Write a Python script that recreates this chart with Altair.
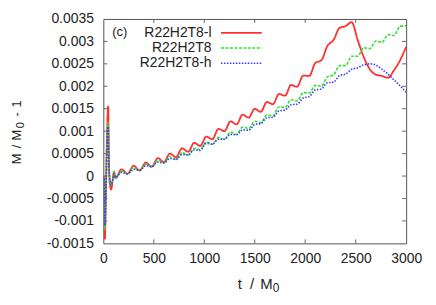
import altair as alt
import pandas as pd

# ---- data ----
t_vals = [0, 8, 16, 24, 32, 40, 48, 56, 66, 78, 92, 106,
          120, 180, 240, 300, 360, 420, 480, 540, 600, 660, 720, 780, 840, 900, 960,
          1020, 1080, 1140, 1200, 1260, 1320, 1380, 1440, 1500, 1560, 1620, 1680, 1740,
          1800, 1860, 1920, 1980, 2040, 2100, 2160, 2220, 2280, 2340, 2400, 2460, 2520,
          2580, 2640, 2700, 2760, 2820, 2880, 2940, 3000]

red_vals = [0, -0.0001, -0.0014, -0.0006, 0.0004, 0.0012, 0.00155, 0.0003, -0.0002, -0.0003, -0.0001, 0.0001,
            -0.00005, 0.00015, 0.00005, 0.00023, 0.00012, 0.00030, 0.00021, 0.00040, 0.00031, 0.00050,
            0.00042, 0.00062, 0.00054, 0.00074, 0.00067, 0.00088, 0.00082, 0.00105, 0.00100, 0.00122,
            0.00115, 0.00137, 0.00130, 0.00150, 0.00143, 0.00165, 0.00160, 0.00183, 0.00179, 0.00203,
            0.00199, 0.00224, 0.00223, 0.00252, 0.00258, 0.00290, 0.00303, 0.00330, 0.00334, 0.00343,
            0.00303, 0.00265, 0.00238, 0.00226, 0.00223, 0.00219, 0.00236, 0.00258, 0.00288]

green_vals = [0, -0.0001, -0.0012, -0.0005, 0.0003, 0.0010, 0.0012, 0.0002, -0.0002, -0.0002, -0.0001, 0.0001,
              -0.00005, 0.00011, 0.00005, 0.00019, 0.00013, 0.00027, 0.00021, 0.00035, 0.00029, 0.00043,
              0.00037, 0.00052, 0.00047, 0.00062, 0.00059, 0.00076, 0.00071, 0.00086, 0.00082, 0.00098,
              0.00093, 0.00109, 0.00106, 0.00122, 0.00119, 0.00136, 0.00134, 0.00154, 0.00153, 0.00170,
              0.00167, 0.00186, 0.00185, 0.00202, 0.00200, 0.00221, 0.00225, 0.00246, 0.00246, 0.00267,
              0.00267, 0.00286, 0.00284, 0.00301, 0.00298, 0.00315, 0.00313, 0.00334, 0.00335]

blue_vals = [0, -0.0001, -0.0011, -0.0005, 0.0003, 0.0009, 0.0011, 0.0002, -0.0001, -0.0002, -0.0001, 0.00005,
             -0.00003, 0.00008, 0.00005, 0.00015, 0.00013, 0.00023, 0.00021, 0.00031, 0.00029, 0.00039,
             0.00037, 0.00048, 0.00047, 0.00058, 0.00057, 0.00073, 0.00071, 0.00082, 0.00082, 0.00093,
             0.00092, 0.00103, 0.00102, 0.00115, 0.00117, 0.00130, 0.00131, 0.00145, 0.00147, 0.00159,
             0.00160, 0.00174, 0.00177, 0.00192, 0.00194, 0.00208, 0.00209, 0.00224, 0.00227, 0.00238,
             0.00241, 0.00248, 0.00250, 0.00247, 0.00238, 0.00227, 0.00214, 0.00201, 0.00187]

series_names = ["R22H2T8-l", "R22H2T8", "R22H2T8-h"]
series_colors = ["#ff3030", "#33e033", "#3a3aff"]
series_dash = [[1, 0], [3, 1.5], [1.5, 1.5]]
series_width = [1.8, 1.6, 1.6]

x_ticks = [0, 500, 1000, 1500, 2000, 2500, 3000]
y_ticks = [-0.0015, -0.001, -0.0005, 0, 0.0005, 0.001, 0.0015, 0.002, 0.0025, 0.003, 0.0035]
y_labels = ["-0.0015", "-0.001", "-0.0005", "0", "0.0005", "0.001", "0.0015", "0.002", "0.0025", "0.003", "0.0035"]

# axis titles split into pieces so that the subscript 0 can be drawn lowered
x_title_parts = ["t", "/", "M", "0"]
y_title_parts = ["M", "/", "M", "0", "-", "1"]

W, H = 305, 226
FONT = "Liberation Sans"
TXT = "#222222"

rows = []
for name, vals in zip(series_names, [red_vals, green_vals, blue_vals]):
    for t, v in zip(t_vals, vals):
        rows.append({"t": t, "v": v, "series": name})
df = pd.DataFrame(rows)

label_expr = "[" + ",".join(f"'{l}'" for l in y_labels) + "][round((datum.value + 0.0015) / 0.0005)]"

xs = alt.Scale(domain=[0, 3000], nice=False, zero=False)
ys = alt.Scale(domain=[-0.0015, 0.0035], nice=False, zero=False)
x_axis = alt.Axis(values=x_ticks, title=None, grid=False, ticks=False, domain=False,
                  labelPadding=8, format="d", labelFlush=False)
y_axis = alt.Axis(values=y_ticks, title=None, grid=False, ticks=False, domain=False,
                  labelPadding=10, labelExpr=label_expr)

layers = []
for i, name in enumerate(series_names):
    layers.append(
        alt.Chart(df[df.series == name])
        .mark_line(color=series_colors[i], strokeDash=series_dash[i], strokeWidth=series_width[i],
                   clip=True, interpolate="monotone")
        .encode(x=alt.X("t:Q", scale=xs, axis=x_axis), y=alt.Y("v:Q", scale=ys, axis=y_axis))
    )

# inward ticks (gnuplot style)
xt = pd.DataFrame({"t": x_ticks[1:-1]})
yt = pd.DataFrame({"v": y_ticks[1:-1]})
tick_style = dict(color="#666666", strokeWidth=1)
layers += [
    alt.Chart(xt).mark_rule(**tick_style).encode(x=alt.X("t:Q", scale=xs, axis=x_axis), y=alt.value(H), y2=alt.value(H - 4)),
    alt.Chart(xt).mark_rule(**tick_style).encode(x=alt.X("t:Q", scale=xs, axis=x_axis), y=alt.value(0), y2=alt.value(4)),
    alt.Chart(yt).mark_rule(**tick_style).encode(y=alt.Y("v:Q", scale=ys, axis=y_axis), x=alt.value(0), x2=alt.value(4)),
    alt.Chart(yt).mark_rule(**tick_style).encode(y=alt.Y("v:Q", scale=ys, axis=y_axis), x=alt.value(W), x2=alt.value(W - 4)),
]

# axis titles (pixel layout of the text pieces)
xtd = pd.DataFrame({"txt": x_title_parts,
                    "px": [137.5, 149.7, 164.3, 174.0],
                    "py": [266.7, 266.7, 266.7, 271.0],
                    "fs": [15, 15, 15, 12]})
ytd = pd.DataFrame({"txt": y_title_parts,
                    "px": [-87.0, -87.0, -87.0, -82.5, -87.0, -87.0],
                    "py": [141.0, 128.5, 117.0, 107.0, 96.0, 85.5],
                    "fs": [13, 13, 13, 11, 13, 13]})
layers.append(
    alt.Chart(xtd).mark_text(align="center", baseline="middle", font=FONT, color=TXT)
    .encode(x=alt.X("px:Q", scale=None), y=alt.Y("py:Q", scale=None), text="txt:N",
            size=alt.Size("fs:Q", scale=None, legend=None))
)
layers.append(
    alt.Chart(ytd).mark_text(align="center", baseline="middle", font=FONT, color=TXT, angle=270)
    .encode(x=alt.X("px:Q", scale=None), y=alt.Y("py:Q", scale=None), text="txt:N",
            size=alt.Size("fs:Q", scale=None, legend=None))
)

# key
key = pd.DataFrame({"name": series_names, "row": [0, 1, 2]})
key["ypix"] = 14 + key["row"] * 15.3
for i, name in enumerate(series_names):
    kd = key[key.name == name]
    layers.append(
        alt.Chart(kd).mark_rule(color=series_colors[i], strokeDash=series_dash[i], strokeWidth=series_width[i])
        .encode(x=alt.value(118.5), x2=alt.value(159.5), y=alt.Y("ypix:Q", scale=None))
    )
layers.append(
    alt.Chart(key).mark_text(align="right", baseline="middle", font=FONT, fontSize=14, color=TXT)
    .encode(x=alt.value(109), y=alt.Y("ypix:Q", scale=None), text="name:N")
)
layers.append(
    alt.Chart(pd.DataFrame({"lab": ["(c)"]})).mark_text(align="left", baseline="middle", font=FONT, fontSize=13, color=TXT)
    .encode(x=alt.value(9), y=alt.value(13.5), text="lab:N")
)

chart = (
    alt.layer(*layers)
    .properties(width=W, height=H, autosize="none",
                padding={"left": 96, "top": 10, "right": 22, "bottom": 58})
    .configure_view(stroke="#555555", strokeWidth=1)
    .configure_axis(labelFont=FONT, titleFont=FONT, labelFontSize=14, titleFontSize=14,
                    labelColor=TXT, titleColor=TXT, titleFontWeight="normal")
)

chart.save("out.html", embed_options={"renderer": "svg", "actions": False})
